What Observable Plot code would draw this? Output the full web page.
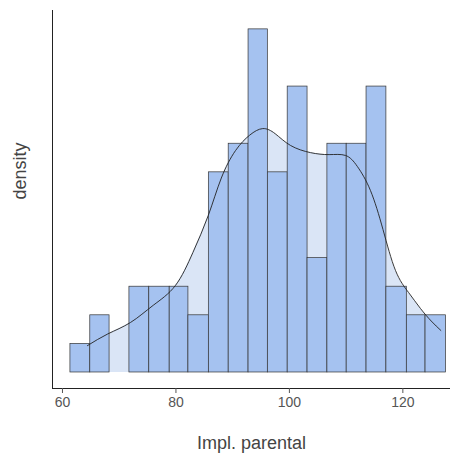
<!DOCTYPE html>
<html>
<head>
<script src="https://cdn.jsdelivr.net/npm/d3@7"></script>
<script src="https://cdn.jsdelivr.net/npm/@observablehq/plot@0.6"></script>
<style>body{margin:0;background:#fff;font-family:"Liberation Sans",Arial,sans-serif;}</style>
</head>
<body>
<div id="chart"></div>
<script>
// bin edges (Impl. parental) and counts
const binEdges = [61.4, 64.9, 68.3, 71.8, 75.3, 78.9, 82.2, 85.8, 89.3, 92.8, 96.2, 99.7, 103.2, 106.7, 110.1, 113.6, 117.1, 120.7, 124.0, 127.6];
const counts = [1, 2, 0, 3, 3, 3, 2, 7, 8, 12, 7, 10, 4, 8, 8, 10, 3, 2, 2];
// density curve, scaled to the count axis
const densX = [64.4, 68, 72, 76, 79.9, 83, 85.7, 88, 90.5, 93, 95.3, 97.5, 100.2, 103.7, 107, 109.9, 112, 114.3, 116.5, 118.7, 121, 123.1, 125, 126.7];
const densY = [0.94, 1.35, 1.75, 2.35, 3.04, 4.2, 5.49, 6.8, 7.76, 8.3, 8.53, 8.35, 7.94, 7.69, 7.62, 7.59, 7.2, 6.36, 5.0, 3.57, 2.8, 2.24, 1.8, 1.47];

const bars = counts.map((c, i) => ({x1: binEdges[i], x2: binEdges[i + 1], y: c}));
const dens = densX.map((x, i) => ({x, y: densY[i]}));

const chart = Plot.plot({
  width: 454,
  height: 462,
  marginLeft: 52,
  marginRight: 4,
  marginTop: 10,
  marginBottom: 74,
  style: {fontFamily: "Liberation Sans, Arial, sans-serif"},
  x: {domain: [58.24, 128.4], ticks: [60, 80, 100, 120]},
  y: {domain: [-0.56, 12.66]},
  marks: [
    Plot.areaY(dens, {x: "x", y: "y", fill: "#dae5f6", curve: "natural"}),
    Plot.rect(bars.filter(d => d.y > 0), {x1: "x1", x2: "x2", y1: 0, y2: "y", fill: "#a5c2f0", stroke: "#333", strokeWidth: 0.7}),
    Plot.lineY(dens, {x: "x", y: "y", stroke: "#222", strokeWidth: 0.9, curve: "natural"}),
    Plot.ruleX([58.24], {stroke: "#222"}),
    Plot.ruleY([-0.56], {stroke: "#222"}),
    Plot.axisX({ticks: [60, 80, 100, 120], tickSize: 5, fontSize: 14, color: "#555", label: null, tickPadding: 4}),
    Plot.axisY({ticks: [], label: null}),
    Plot.text(["Impl. parental"], {frameAnchor: "bottom", dy: 60, fontSize: 18, fill: "#444"}),
    Plot.text(["density"], {frameAnchor: "left", dx: -32, rotate: -90, fontSize: 18, fill: "#444"})
  ]
});
document.getElementById("chart").append(chart);
</script>
</body>
</html>
